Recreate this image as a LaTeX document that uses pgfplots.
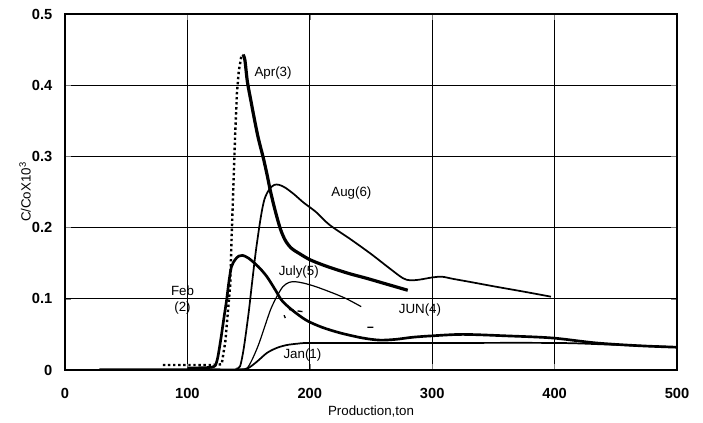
\documentclass[border=0pt]{standalone}
\usepackage{pgfplots}
\pgfplotsset{compat=1.18}
\usepackage{fontspec}
\setmainfont{Liberation Sans}
\begin{document}
\begin{tikzpicture}
\begin{axis}[
  width=459pt, height=267pt, scale only axis,
  xmin=0, xmax=500, ymin=0, ymax=0.5,
  xtick={0,100,200,300,400,500},
  xticklabels={0,100,200,300,400,500},
  ytick={0,0.1,0.2,0.3,0.4,0.5},
  yticklabels={0,0.1,0.2,0.3,0.4,0.5},
  grid=major, grid style={black, line width=1pt},
  axis line style={black, line width=1pt},
  tick label style={font=\bfseries\fontsize{11}{13}\selectfont},
  xticklabel style={yshift=-10pt},
  yticklabel style={xshift=-6pt},
  xlabel={Production,ton},
  ylabel={C/CoX10\textsuperscript{3}},
  label style={font=\fontsize{10}{12}\selectfont},
  xlabel style={yshift=1pt},
  ylabel style={yshift=-6pt},
]
% Jan(1)
\addplot[black, line width=1.3pt, smooth] coordinates {
(28,0.001)(100,0.001)(145,0.001)(150,0.003)(157,0.012)(165,0.024)(173,0.031)(181,0.035)(190,0.037)(200,0.038)(250,0.038)(300,0.038)(400,0.038)(440,0.036)(470,0.034)(500,0.032)};
% Feb(2)
\addplot[black, line width=2pt, smooth] coordinates {
(100,0.003)(120,0.004)(124,0.012)(127,0.04)(130,0.075)(132,0.098)(134,0.125)(136,0.145)(139,0.155)(142,0.16)(145,0.161)(150,0.157)(158,0.145)(165,0.131)(172,0.112)(177,0.098)(185,0.085)(197,0.07)(210,0.06)(225,0.052)(243,0.045)(257,0.042)(270,0.043)(284,0.046)(300,0.048)(325,0.05)(360,0.048)(398,0.045)(434,0.038)(470,0.034)(500,0.032)};
% Apr(3) rise, dotted
\addplot[black, line width=1.8pt, dotted] coordinates {
(80,0.007)(100,0.007)(120,0.007)(128,0.008)(131,0.04)(133,0.08)(135,0.12)(136,0.18)(137,0.23)(138,0.28)(139,0.33)(140.5,0.39)(142,0.42)(144,0.44)(145.5,0.443)};
% Apr(3) fall
\addplot[black, line width=2.4pt, smooth] coordinates {
(145.5,0.443)(147,0.435)(149,0.405)(152,0.377)(155,0.35)(158,0.325)(162,0.298)(165,0.275)(168,0.25)(172,0.222)(176,0.198)(180,0.182)(185,0.171)(192,0.163)(200,0.155)(210,0.148)(220,0.142)(233,0.135)(246,0.129)(260,0.122)(270,0.117)(280,0.112)};
% JUN(4) scattered
\addplot[black, line width=1pt, unbounded coords=jump] coordinates {
(183,0.085)(187,0.084)(nan,nan)(190,0.083)(194,0.082)(nan,nan)(179,0.077)(180,0.073)(nan,nan)(247,0.06)(252,0.06)};
% July(5)
\addplot[black, line width=0.9pt, smooth] coordinates {
(145,0.001)(149,0.003)(153,0.015)(158,0.035)(163,0.06)(168,0.085)(173,0.103)(178,0.117)(183,0.123)(188,0.124)(195,0.122)(205,0.117)(219,0.108)(230,0.1)(242,0.089)};
% Aug(6)
\addplot[black, line width=1.3pt, smooth] coordinates {
(140,0.002)(143,0.005)(146,0.03)(150,0.08)(153,0.125)(156,0.168)(160,0.215)(163,0.24)(167,0.254)(171,0.26)(175,0.26)(180,0.256)(187,0.247)(195,0.235)(205,0.222)(216,0.204)(233,0.184)(250,0.163)(265,0.143)(276,0.129)(282,0.126)(290,0.127)(300,0.13)(308,0.131)(317,0.128)(330,0.124)(352,0.117)(375,0.11)(397,0.103)};
% labels
\node[font=\fontsize{10}{12}\selectfont] at (axis cs:170,0.417) {Apr(3)};
\node[font=\fontsize{10}{12}\selectfont] at (axis cs:234,0.249) {Aug(6)};
\node[font=\fontsize{10}{12}\selectfont] at (axis cs:191,0.138) {July(5)};
\node[font=\fontsize{10}{12}\selectfont] at (axis cs:194,0.021) {Jan(1)};
\node[font=\fontsize{10}{12}\selectfont] at (axis cs:290,0.084) {JUN(4)};
\node[font=\fontsize{10}{12}\selectfont, align=center, inner sep=0pt] at (axis cs:96,0.098) {Feb\\(2)};
\end{axis}
\path (current axis.south west) ++(-48.75pt,-36.75pt) coordinate (a);
\path (current axis.north east) ++(19.5pt,10.5pt) coordinate (b);
\path (a) rectangle (b);
\end{tikzpicture}
\end{document}
